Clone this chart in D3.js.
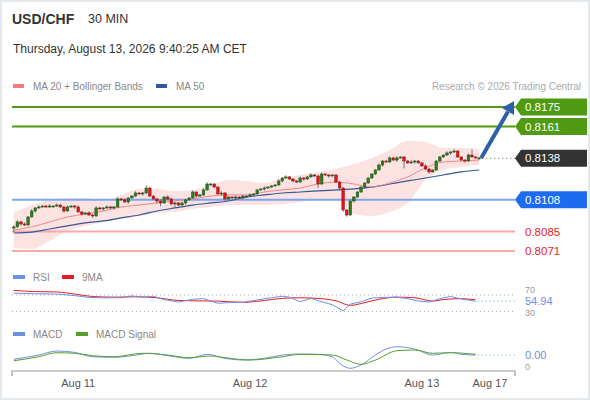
<!DOCTYPE html>
<html>
<head>
<meta charset="utf-8">
<script src="https://cdn.jsdelivr.net/npm/d3@7"></script>
<style>
  body { margin: 0; background: #fff; }
  svg { display: block; font-family: "Liberation Sans", Arial, sans-serif; }
</style>
</head>
<body>
<svg id="chart" width="590" height="400"></svg>
<script>
// ---- data (30 min candles) ----
const firstOpen = 0.80876;
const closes = [
  0.80884, 0.80920, 0.80905, 0.80898, 0.80956, 0.80999, 0.81021, 0.81028, 0.81035, 0.81028,
  0.81035, 0.81035, 0.81042, 0.81028, 0.80999, 0.81028, 0.81035, 0.81028, 0.80992, 0.80977,
  0.80985, 0.80970, 0.80963, 0.81021, 0.81014, 0.81021, 0.81028, 0.81021, 0.81028, 0.81086,
  0.81079, 0.81064, 0.81093, 0.81107, 0.81129, 0.81122, 0.81129, 0.81165, 0.81107, 0.81086,
  0.81071, 0.81057, 0.81100, 0.81086, 0.81050, 0.81057, 0.81042, 0.81057, 0.81079, 0.81093,
  0.81136, 0.81107, 0.81115, 0.81151, 0.81194, 0.81194, 0.81172, 0.81122, 0.81129, 0.81086,
  0.81100, 0.81093, 0.81100, 0.81093, 0.81107, 0.81107, 0.81115, 0.81122, 0.81151, 0.81158,
  0.81165, 0.81172, 0.81180, 0.81187, 0.81216, 0.81237, 0.81245, 0.81230, 0.81216, 0.81208,
  0.81237, 0.81230, 0.81245, 0.81259, 0.81252, 0.81194, 0.81266, 0.81259, 0.81252, 0.81259,
  0.81208, 0.81165, 0.81006, 0.80970, 0.81071, 0.81100, 0.81136, 0.81172, 0.81201, 0.81237,
  0.81266, 0.81295, 0.81331, 0.81360, 0.81353, 0.81382, 0.81367, 0.81382, 0.81389, 0.81360,
  0.81346, 0.81353, 0.81360, 0.81346, 0.81324, 0.81302, 0.81281, 0.81295, 0.81360, 0.81389,
  0.81403, 0.81418, 0.81425, 0.81432, 0.81389, 0.81367, 0.81360, 0.81403, 0.81389, 0.81382,
  0.81382
];
// wick lengths in pips above / below the body
const wickHi = [
  2,2,1,2,1,2,1,2,1,1, 2,1,2,1,1,2,1,1,2,1, 1,2,1,2,1,1,2,1,1,2,
  1,2,1,1,2,1,1,3,1,1, 1,2,1,2,1,1,1,2,1,1, 2,1,1,2,2,1,1,1,2,1,
  1,1,2,1,1,1,2,1,1,1, 2,1,1,1,2,1,2,1,1,1, 2,1,1,2,1,1,2,1,1,1,
  1,1,1,1,2,1,1,1,1,1, 1,1,2,1,1,2,1,2,1,1, 1,2,1,1,1,2,1,1,1,1,
  1,2,1,2,1,1,1,2,7,1, 1
];
const wickLo = [
  5,1,2,1,1,1,2,1,1,1, 1,2,1,1,2,1,1,2,1,2, 1,1,2,1,1,2,1,1,2,1,
  1,1,2,1,1,1,2,1,1,1, 3,4,1,1,2,4,1,1,2,1, 1,2,1,1,1,2,1,1,2,2,
  1,1,2,1,1,2,1,1,1,1, 2,1,1,1,1,2,1,1,2,1, 1,2,1,1,1,5,1,1,2,1,
  1,2,2,2,1,2,1,1,1,1, 1,1,1,2,1,1,1,2,1,9, 1,1,2,1,1,1,2,1,1,1,
  1,1,2,1,1,1,2,1,1,1, 2
];

// indicator samples (candle index -> value)
const bandIdx = [0,5,10,15,20,25,30,35,40,45,50,55,60,65,70,75,80,85,90,95,100,105,110,115,120,125,130];
const bbUpper = [0.80985,0.81042,0.81079,0.81093,0.81093,0.81079,0.81115,0.81158,0.81158,0.81144,0.81151,0.81187,0.81223,0.81216,0.81201,0.81237,0.81259,0.81281,0.81302,0.81338,0.81382,0.81440,0.81505,0.81497,0.81454,0.81454,0.81447];
const bbLower = [0.80732,0.80725,0.80783,0.80855,0.80891,0.80920,0.80941,0.80963,0.80985,0.80992,0.81014,0.81028,0.81042,0.81042,0.81042,0.81050,0.81064,0.81086,0.81086,0.80977,0.80963,0.80992,0.81057,0.81223,0.81295,0.81317,0.81331];
const ma20 = [0.80862,0.80884,0.80920,0.80956,0.80977,0.80999,0.81028,0.81042,0.81057,0.81071,0.81086,0.81107,0.81115,0.81115,0.81136,0.81151,0.81165,0.81194,0.81208,0.81194,0.81172,0.81201,0.81245,0.81310,0.81353,0.81360,0.81367];
const ma50 = [0.80840,0.80847,0.80869,0.80891,0.80913,0.80927,0.80949,0.80970,0.80999,0.81021,0.81042,0.81057,0.81071,0.81100,0.81115,0.81129,0.81136,0.81144,0.81151,0.81158,0.81172,0.81194,0.81216,0.81237,0.81259,0.81281,0.81295];

const rsiIdx = [0,6,12,17,21,25,30,33,36,39,42,46,50,53,57,60,64,68,72,75,77,80,83,86,89,92,94,97,100,103,107,110,113,116,119,122,125,129];
const rsiVal = [74.4,73,72.2,68.5,64.1,63.3,63.3,67.8,64.8,67,58.9,53,59.6,61.1,50,51.5,52.2,58.1,63.3,67,64.8,53.7,61.8,53.7,46.3,31.5,47.8,53.7,62.6,64.1,64.8,61.1,55.2,53,61.1,66.3,60.4,54.94];
const rsiMaIdx = [0,6,12,17,22,28,34,40,45,50,57,64,70,75,80,86,90,94,97,102,107,112,117,120,125,129];
const rsiMaVal = [81.1,78.2,77.4,72.2,66.3,64.8,65.6,63.3,57.4,55.9,55.2,52.2,56.7,61.8,63.3,61.1,55.9,44.8,49.3,59.6,64.8,63.3,55.2,58.9,61.1,58.1];
const rsiLevels = [70, 30];

const macdIdx = [0,7,12,17,22,28,33,38,43,49,54,59,64,70,75,80,85,89,91,94,97,101,104,107,112,117,122,125,129];
const macdVal = [0.000034,0.000087,0.000137,0.000120,0.000066,0.000059,0.000079,0.000109,0.000079,0.000046,0.000096,0.000046,0.000025,0.000046,0.000087,0.000100,0.000096,0.000066,-0.000016,-0.000079,-0.000037,0.000087,0.000162,0.000191,0.000162,0.000087,0.000120,0.000096,0.000087];
const sigIdx = [0,7,12,17,22,28,36,43,49,55,59,66,75,80,89,93,97,101,107,112,117,122,129];
const sigVal = [0.000016,0.000066,0.000116,0.000109,0.000079,0.000066,0.000109,0.000087,0.000054,0.000075,0.000054,0.000025,0.000066,0.000096,0.000087,0.000025,-0.000029,0.000025,0.000141,0.000150,0.000109,0.000116,0.000096];

const resistances = [0.8175, 0.8161];
const pivot = 0.8108;
const supports = [0.8085, 0.8071];
const lastPrice = 0.8138;

const tickIdx = [18, 66, 114, 133];
const tickLabels = ["Aug 11", "Aug 12", "Aug 13", "Aug 17"];

// ---- build ----
const candles = closes.map((c, i) => {
  const o = i === 0 ? firstOpen : closes[i - 1];
  return {
    i, o, c,
    h: Math.max(o, c) + wickHi[i] * 0.0001 * 0.6,
    l: Math.min(o, c) - wickLo[i] * 0.0001 * 0.6
  };
});

const svg = d3.select("#chart");

// frame
svg.append("rect")
  .attr("x", 1).attr("y", 1).attr("width", 588).attr("height", 398)
  .attr("fill", "#fff").attr("stroke", "#e3e9ed").attr("stroke-width", 2);

// header
svg.append("text").attr("x", 12).attr("y", 24)
  .style("font-size", "14px").style("font-weight", "bold").attr("fill", "#333")
  .text("USD/CHF");
svg.append("text").attr("x", 88).attr("y", 23)
  .style("font-size", "12.5px").attr("fill", "#333")
  .text("30 MIN");
svg.append("text").attr("x", 13).attr("y", 53)
  .style("font-size", "12px").attr("fill", "#333")
  .text("Thursday, August 13, 2026 9:40:25 AM CET");

// legend
function legendItem(x, y, color, label) {
  svg.append("rect").attr("x", x).attr("y", y - 2).attr("width", 11).attr("height", 4)
    .attr("fill", color);
  svg.append("text").attr("x", x + 20).attr("y", y + 3.5)
    .style("font-size", "10px").attr("fill", "#888").text(label);
}
legendItem(13, 86, "#f47c7c", "MA 20 + Bollinger Bands");
legendItem(156, 86, "#34589a", "MA 50");
svg.append("text").attr("x", 581).attr("y", 89.5).attr("text-anchor", "end")
  .style("font-size", "10px").attr("fill", "#aaa")
  .text("Research \u00a9 2026 Trading Central");

// scales
const x = d3.scaleLinear().domain([-0.5, 140]).range([12, 515]);
const y = d3.scaleLinear().domain([0.8071, 0.8175]).range([251, 107]);
const yRsi = d3.scaleLinear().domain([30, 70]).range([311.5, 295]);
const yMacd = d3.scaleLinear().domain([-0.0001, 0.0002]).range([370, 346]);

const plot = svg.append("g");

// bollinger band
const bandData = bandIdx.map((d, k) => ({ i: d, up: bbUpper[k], lo: bbLower[k], m20: ma20[k], m50: ma50[k] }));
plot.append("path").datum(bandData)
  .attr("d", d3.area().x(d => x(d.i)).y0(d => y(d.lo)).y1(d => y(d.up)).curve(d3.curveMonotoneX))
  .attr("fill", "#fde2e2");

// level lines
resistances.forEach(v => {
  plot.append("line").attr("x1", 12).attr("x2", 515).attr("y1", y(v)).attr("y2", y(v))
    .attr("stroke", "#4f9a12").attr("stroke-width", 2);
});
plot.append("line").attr("x1", 12).attr("x2", 515).attr("y1", y(pivot)).attr("y2", y(pivot))
  .attr("stroke", "#7ea6ee").attr("stroke-width", 2);
supports.forEach(v => {
  plot.append("line").attr("x1", 12).attr("x2", 515).attr("y1", y(v)).attr("y2", y(v))
    .attr("stroke", "#f6aaaa").attr("stroke-width", 2);
});

// moving averages
plot.append("path").datum(bandData)
  .attr("d", d3.line().x(d => x(d.i)).y(d => y(d.m50)).curve(d3.curveMonotoneX))
  .attr("fill", "none").attr("stroke", "#34589a").attr("stroke-width", 1.2);
plot.append("path").datum(bandData)
  .attr("d", d3.line().x(d => x(d.i)).y(d => y(d.m20)).curve(d3.curveMonotoneX))
  .attr("fill", "none").attr("stroke", "#f38686").attr("stroke-width", 1);

// candles
const cg = plot.append("g");
cg.selectAll("line.wick")
  .data(candles)
  .join("line")
  .attr("class", "wick")
  .attr("x1", d => x(d.i)).attr("x2", d => x(d.i))
  .attr("y1", d => y(d.h)).attr("y2", d => y(d.l))
  .attr("stroke", "#555").attr("stroke-width", 0.8);
cg.selectAll("rect.body")
  .data(candles)
  .join("rect")
  .attr("class", "body")
  .attr("x", d => x(d.i) - 1.3)
  .attr("width", 2.6)
  .attr("y", d => y(Math.max(d.o, d.c)))
  .attr("height", d => Math.max(1, Math.abs(y(d.o) - y(d.c))))
  .attr("fill", d => d.c >= d.o ? "#2f7d1f" : "#e3151b")
  .attr("stroke", d => d.c >= d.o ? "#1d4d12" : "#8a1010")
  .attr("stroke-width", 0.5);

// last price dotted line
const last = candles[candles.length - 1];
plot.append("line")
  .attr("x1", x(last.i) + 3).attr("x2", 515)
  .attr("y1", y(lastPrice)).attr("y2", y(lastPrice))
  .attr("stroke", "#666").attr("stroke-width", 1).attr("stroke-dasharray", "1,3");

// forecast arrow
{
  const x0 = x(last.i) + 2, y0 = y(last.c);
  const x1 = 514, y1 = y(resistances[0]) - 6;
  const len = Math.hypot(x1 - x0, y1 - y0);
  const ux = (x1 - x0) / len, uy = (y1 - y0) / len;
  const bx = x1 - ux * 12, by = y1 - uy * 12;
  plot.append("line").attr("x1", x0).attr("y1", y0).attr("x2", bx).attr("y2", by)
    .attr("stroke", "#2f5fa6").attr("stroke-width", 4);
  plot.append("polygon")
    .attr("points", [[x1, y1], [bx - uy * 7, by + ux * 7], [bx + uy * 7, by - ux * 7]].map(p => p.join(",")).join(" "))
    .attr("fill", "#2f5fa6");
}

// price tags
function tag(v, color) {
  const cy = y(v);
  svg.append("polygon")
    .attr("points", `515,${cy} 521,${cy - 8.5} 587,${cy - 8.5} 587,${cy + 8.5} 521,${cy + 8.5}`)
    .attr("fill", color);
  svg.append("text").attr("x", 525).attr("y", cy + 4.2)
    .style("font-size", "11.5px").attr("fill", "#fff").text(v.toFixed(4));
}
resistances.forEach(v => tag(v, "#4f9a12"));
tag(lastPrice, "#333");
tag(pivot, "#1d6cf0");
supports.forEach(v => {
  svg.append("text").attr("x", 525).attr("y", y(v) + 4.2)
    .style("font-size", "11.5px").attr("fill", "#e8231f").text(v.toFixed(4));
});

// ---- RSI panel ----
function smallLegend(x0, yy, color, label) {
  svg.append("rect").attr("x", x0).attr("y", yy - 2).attr("width", 12).attr("height", 4).attr("fill", color);
  svg.append("text").attr("x", x0 + 20).attr("y", yy + 3.5)
    .style("font-size", "10px").attr("fill", "#888").text(label);
}
smallLegend(13, 277, "#6d8fe6", "RSI");
smallLegend(62, 277, "#e61c22", "9MA");

rsiLevels.forEach(v => {
  svg.append("line").attr("x1", 12).attr("x2", 515).attr("y1", yRsi(v)).attr("y2", yRsi(v))
    .attr("stroke", "#aaa").attr("stroke-width", 1).attr("stroke-dasharray", "1,3");
});
// 70 sits just above the current-value label, 30 just below it
svg.append("text").attr("x", 525).attr("y", yRsi(70) - 2.5)
  .style("font-size", "9px").attr("fill", "#999").text(rsiLevels[0]);
svg.append("text").attr("x", 525).attr("y", yRsi(30) + 4.3)
  .style("font-size", "9px").attr("fill", "#999").text(rsiLevels[1]);

const rsiData = rsiIdx.map((d, k) => ({ i: d, v: rsiVal[k] }));
const rsiMaData = rsiMaIdx.map((d, k) => ({ i: d, v: rsiMaVal[k] }));
svg.append("path").datum(rsiMaData)
  .attr("d", d3.line().x(d => x(d.i)).y(d => yRsi(d.v)).curve(d3.curveMonotoneX))
  .attr("fill", "none").attr("stroke", "#e61c22").attr("stroke-width", 1);
svg.append("path").datum(rsiData)
  .attr("d", d3.line().x(d => x(d.i)).y(d => yRsi(d.v)))
  .attr("fill", "none").attr("stroke", "#6d8fe6").attr("stroke-width", 1);
const rsiLast = rsiVal[rsiVal.length - 1];
svg.append("line").attr("x1", x(rsiIdx[rsiIdx.length - 1]) + 2).attr("x2", 515)
  .attr("y1", yRsi(rsiLast)).attr("y2", yRsi(rsiLast))
  .attr("stroke", "#6d8fe6").attr("stroke-width", 1).attr("stroke-dasharray", "1,3");
svg.append("text").attr("x", 525).attr("y", yRsi(rsiLast) + 4)
  .style("font-size", "11px").attr("fill", "#6d8fe6").text(rsiLast.toFixed(2));

// ---- MACD panel ----
smallLegend(13, 334, "#6d8fe6", "MACD");
smallLegend(76, 334, "#55a02a", "MACD Signal");
svg.append("text").attr("x", 525).attr("y", yMacd(0) + 7.5)
  .style("font-size", "9px").attr("fill", "#999").text("0");
const macdData = macdIdx.map((d, k) => ({ i: d, v: macdVal[k] }));
const sigData = sigIdx.map((d, k) => ({ i: d, v: sigVal[k] }));
svg.append("path").datum(macdData)
  .attr("d", d3.line().x(d => x(d.i)).y(d => yMacd(d.v)).curve(d3.curveMonotoneX))
  .attr("fill", "none").attr("stroke", "#6d8fe6").attr("stroke-width", 1);
svg.append("path").datum(sigData)
  .attr("d", d3.line().x(d => x(d.i)).y(d => yMacd(d.v)).curve(d3.curveMonotoneX))
  .attr("fill", "none").attr("stroke", "#55a02a").attr("stroke-width", 1);
const macdLast = macdVal[macdVal.length - 1];
svg.append("line").attr("x1", x(macdIdx[macdIdx.length - 1]) + 2).attr("x2", 515)
  .attr("y1", yMacd(macdLast)).attr("y2", yMacd(macdLast))
  .attr("stroke", "#6d8fe6").attr("stroke-width", 1).attr("stroke-dasharray", "1,3");
svg.append("text").attr("x", 525).attr("y", yMacd(macdLast) + 3.5)
  .style("font-size", "11px").attr("fill", "#6d8fe6").text(macdLast.toFixed(2));

// ---- time axis ----
const axis = svg.append("g").attr("transform", "translate(0,371)");
axis.append("path").attr("d", "M12,5V0H515V5").attr("fill", "none").attr("stroke", "#999").attr("stroke-width", 1.2);
axis.selectAll("text")
  .data(tickIdx)
  .join("text")
  .attr("x", d => x(d))
  .attr("y", 16)
  .attr("text-anchor", "middle")
  .style("font-size", "11px")
  .attr("fill", "#555")
  .text((d, k) => tickLabels[k]);
</script>
</body>
</html>
